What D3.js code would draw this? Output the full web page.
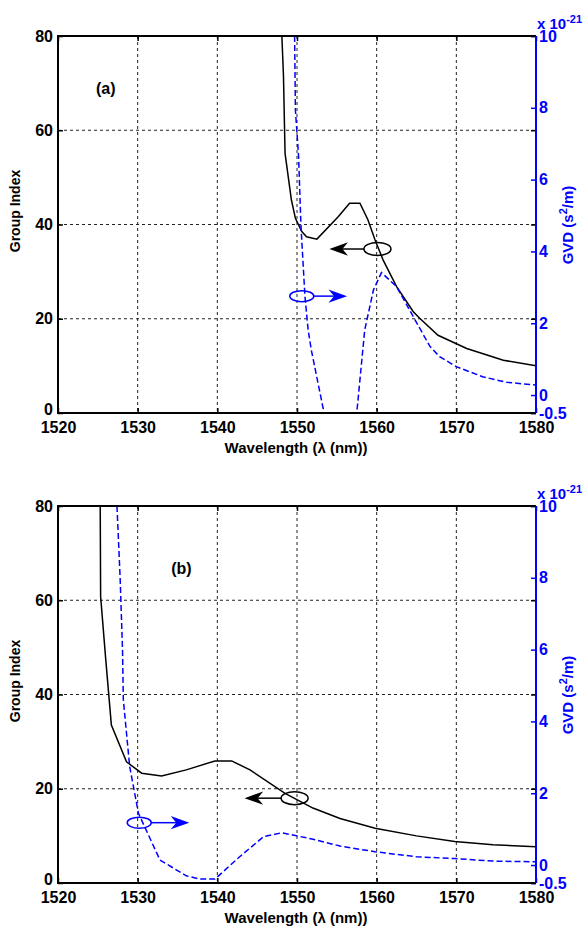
<!DOCTYPE html>
<html>
<head>
<meta charset="utf-8">
<script src="https://cdn.jsdelivr.net/npm/d3@7"></script>
<style>
  body { margin: 0; background: #fff; }
  text { font-family: "Liberation Sans", Arial, sans-serif; font-weight: bold; }
</style>
</head>
<body>
<div id="chart"></div>
<script>
// ---- data ----
const wavelengthTicks = [1520, 1530, 1540, 1550, 1560, 1570, 1580]
const groupIndexTicks = [0, 20, 40, 60, 80]
const gvdTicks = [-0.5, 0, 2, 4, 6, 8, 10]

// panel (a)
const wlGroupA = [1548.1, 1548.3, 1548.5, 1549.3, 1549.8, 1550.6, 1551.2, 1552.5, 1555.2, 1556.6, 1557.9, 1558.9, 1559.8, 1560.8, 1562.5, 1564.6, 1565.4, 1567.7, 1571.3, 1575.9, 1580]
const groupA   = [80, 71.7, 55.1, 45.2, 41.3, 38.5, 37.4, 36.9, 41.7, 44.5, 44.5, 41.0, 36.7, 32.5, 26.8, 21.5, 20.1, 16.5, 13.7, 11.2, 10.0]
const wlGvdA = [1549.7, 1549.8, 1550.2, 1550.5, 1551.0, 1551.4, 1551.8, 1553.4, 1555.5, 1557.5, 1558.5, 1559.6, 1560.6, 1562.5, 1564.6, 1566.7, 1567.9, 1570, 1573.3, 1576.3, 1580]
const gvdA   = [10, 7.94, 6.64, 4.69, 2.74, 1.81, 1.25, -0.5, -2.0, -0.5, 1.81, 2.93, 3.41, 3.02, 2.18, 1.35, 1.07, 0.79, 0.51, 0.355, 0.28]

// panel (b)
const wlGroupB = [1525.3, 1525.35, 1526.0, 1526.7, 1528.6, 1530.5, 1533.0, 1536.1, 1539.7, 1541.8, 1544.1, 1548.5, 1552.0, 1555.4, 1559.8, 1565.0, 1569.8, 1574.6, 1580]
const groupB   = [80, 60.8, 47.3, 33.5, 25.7, 23.3, 22.7, 24.0, 25.9, 25.9, 24.0, 19.0, 15.9, 13.7, 11.6, 10.0, 8.8, 8.1, 7.7]
const wlGvdB = [1527.4, 1527.6, 1527.8, 1528.1, 1528.2, 1529.0, 1530.1, 1532.8, 1536.1, 1537.8, 1539.7, 1542.8, 1545.8, 1548.1, 1552.0, 1555.4, 1559.8, 1565.0, 1569.8, 1574.6, 1580]
const gvdB   = [10, 9.01, 7.99, 5.99, 4.6, 2.74, 1.44, 0.14, -0.3, -0.39, -0.39, 0.23, 0.79, 0.9, 0.72, 0.53, 0.37, 0.23, 0.18, 0.11, 0.09]

// axis markers: ellipse centre (nm, group index) and arrow tip (nm)
const markersA = [
  { series: "group", wl: 1560.1, gi: 34.8, tip: 1554.35 },
  { series: "gvd",   wl: 1550.6, gi: 24.8, tip: 1556.0 },
]
const markersB = [
  { series: "group", wl: 1549.7, gi: 18.0, tip: 1543.7 },
  { series: "gvd",   wl: 1530.2, gi: 12.8, tip: 1536.2 },
]

// ---- layout ----
const width = 587
const height = 930
const plot = { left: 58, width: 478, height: 377 }
const blue = "#0000ff"

const panels = [
  { id: "a", top: 36, label: "(a)", labelAt: [1526.0, 69.0],
    wlGroup: wlGroupA, group: groupA, wlGvd: wlGvdA, gvd: gvdA, markers: markersA },
  { id: "b", top: 506, label: "(b)", labelAt: [1535.5, 66.8],
    wlGroup: wlGroupB, group: groupB, wlGvd: wlGvdB, gvd: gvdB, markers: markersB },
]

const svg = d3.select("#chart").append("svg")
  .attr("width", width)
  .attr("height", height)

const x = d3.scaleLinear().domain([1520, 1580]).range([0, plot.width])
const yLeft = d3.scaleLinear().domain([0, 80]).range([plot.height, 0])
const yRight = d3.scaleLinear().domain([-0.5, 10]).range([plot.height, 0])

panels.forEach(p => {
  const g = svg.append("g").attr("transform", `translate(${plot.left},${p.top})`)

  g.append("clipPath").attr("id", "clip-" + p.id)
    .append("rect").attr("width", plot.width).attr("height", plot.height)

  // grid
  const grid = g.append("g")
    .attr("stroke", "#222")
    .attr("stroke-width", 1)
    .attr("stroke-dasharray", "3,3")
  wavelengthTicks.slice(1, -1).forEach(t => {
    grid.append("line").attr("x1", x(t)).attr("x2", x(t)).attr("y1", 0).attr("y2", plot.height)
  })
  groupIndexTicks.slice(1, -1).forEach(t => {
    grid.append("line").attr("x1", 0).attr("x2", plot.width).attr("y1", yLeft(t)).attr("y2", yLeft(t))
  })

  // curves
  const curves = g.append("g").attr("clip-path", `url(#clip-${p.id})`)
  const groupLine = d3.line().x(d => x(d[0])).y(d => yLeft(d[1]))
  const gvdLine = d3.line().x(d => x(d[0])).y(d => yRight(d[1]))

  curves.append("path")
    .attr("d", groupLine(d3.zip(p.wlGroup, p.group)))
    .attr("fill", "none")
    .attr("stroke", "#000")
    .attr("stroke-width", 1.5)

  curves.append("path")
    .attr("d", gvdLine(d3.zip(p.wlGvd, p.gvd)))
    .attr("fill", "none")
    .attr("stroke", blue)
    .attr("stroke-width", 1.5)
    .attr("stroke-dasharray", "6,3")

  // axes
  const styleAxis = (sel, color) => {
    sel.select(".domain").remove()
    sel.selectAll("line").attr("stroke", color).attr("stroke-width", 1.5)
    sel.selectAll("text")
      .attr("fill", color)
      .attr("font-size", 16)
      .attr("font-family", null)
  }

  g.append("g")
    .attr("transform", `translate(0,${plot.height})`)
    .call(d3.axisBottom(x).tickValues(wavelengthTicks).tickSize(-5).tickPadding(9).tickFormat(d => d))
    .call(sel => styleAxis(sel, "#000"))

  g.append("g")
    .call(d3.axisTop(x).tickValues(wavelengthTicks).tickSize(-5).tickFormat(""))
    .call(sel => styleAxis(sel, "#000"))

  g.append("g")
    .call(d3.axisLeft(yLeft).tickValues(groupIndexTicks).tickSize(-5).tickPadding(5).tickFormat(d => d))
    .call(sel => styleAxis(sel, "#000"))
    // lift the "0" a little so it clears the first wavelength label
    .call(sel => sel.selectAll(".tick text").filter(d => d === 0).attr("dy", "0.1em"))

  g.append("g")
    .attr("transform", `translate(${plot.width},0)`)
    .call(d3.axisRight(yLeft).tickValues(groupIndexTicks).tickSize(-5).tickFormat(""))
    .call(sel => styleAxis(sel, "#000"))

  g.append("g")
    .attr("transform", `translate(${plot.width},0)`)
    .call(d3.axisRight(yRight).tickValues(gvdTicks).tickSize(-5).tickPadding(3).tickFormat(d => String(d)))
    .call(sel => styleAxis(sel, blue))

  // box
  g.append("path")
    .attr("d", `M${plot.width},0H0V${plot.height}H${plot.width}`)
    .attr("fill", "none").attr("stroke", "#000").attr("stroke-width", 2)
  g.append("line")
    .attr("x1", plot.width).attr("x2", plot.width).attr("y1", 0).attr("y2", plot.height)
    .attr("stroke", blue).attr("stroke-width", 2)

  // exponent
  const expo = g.append("text")
    .attr("x", plot.width + 1).attr("y", -7)
    .attr("fill", blue).attr("font-size", 15)
  expo.append("tspan").text("x 10")
  expo.append("tspan").attr("dy", -6).attr("font-size", 11).text("-21")

  // axis labels
  g.append("text")
    .attr("x", plot.width / 2 - 1).attr("y", plot.height + 40)
    .attr("text-anchor", "middle").attr("font-size", 15)
    .text("Wavelength (λ (nm))")

  g.append("text")
    .attr("transform", `translate(${20 - plot.left},${175}) rotate(-90)`)
    .attr("text-anchor", "middle").attr("font-size", 14)
    .text("Group Index")

  const gvdLabel = g.append("text")
    .attr("transform", `translate(${plot.width + 37},${189}) rotate(-90)`)
    .attr("text-anchor", "middle").attr("font-size", 15)
    .attr("fill", blue)
  gvdLabel.append("tspan").text("GVD (s")
  gvdLabel.append("tspan").attr("dy", -6).attr("font-size", 11).text("2")
  gvdLabel.append("tspan").attr("dy", 6).text("/m)")

  // panel label
  g.append("text")
    .attr("x", x(p.labelAt[0])).attr("y", yLeft(p.labelAt[1]) + 6)
    .attr("text-anchor", "middle").attr("font-size", 16)
    .text(p.label)

  // series markers: ellipse + arrow toward the matching axis
  p.markers.forEach(m => {
    const color = m.series === "group" ? "#000" : blue
    const cx = x(m.wl), cy = yLeft(m.gi), tx = x(m.tip)
    const rx = m.series === "group" ? 13.5 : 12, ry = m.series === "group" ? 6.5 : 5.5
    const dir = tx < cx ? -1 : 1
    const head = 14
    const mk = g.append("g").attr("stroke", color).attr("fill", "none").attr("stroke-width", 1.5)
    mk.append("ellipse").attr("cx", cx).attr("cy", cy).attr("rx", rx).attr("ry", ry)
    mk.append("line")
      .attr("x1", cx + dir * rx).attr("x2", tx - dir * head * 0.6)
      .attr("y1", cy).attr("y2", cy)
    mk.append("path")
      .attr("d", `M${tx},${cy}L${tx - dir * head},${cy - 5}L${tx - dir * head * 0.7},${cy}L${tx - dir * head},${cy + 5}Z`)
      .attr("fill", color)
  })
})
</script>
</body>
</html>
